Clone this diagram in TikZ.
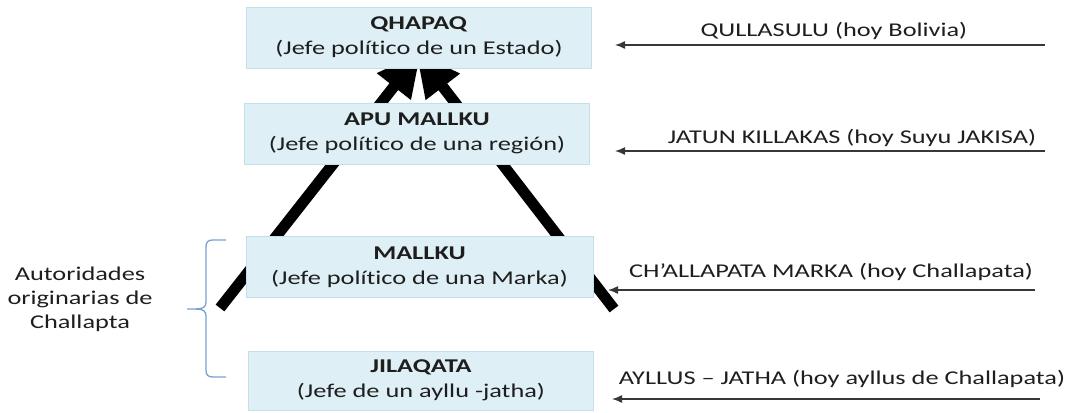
\documentclass[tikz,border=0pt]{standalone}
\usepackage{fontspec}
\setmainfont{Carlito}[FakeStretch=1.35,Ligatures={NoCommon}]
\usetikzlibrary{arrows.meta,backgrounds,calc}
\definecolor{boxfill}{RGB}{222,239,245}
\definecolor{boxline}{RGB}{195,224,234}
\definecolor{txt}{RGB}{30,30,30}
\definecolor{bracec}{RGB}{120,160,210}
\definecolor{thinc}{RGB}{55,55,55}
\begin{document}
\begin{tikzpicture}[x=1pt,y=-1pt,
  every node/.style={text=txt,font=\fontsize{19.5}{25}\selectfont},
  level/.style={draw=boxline,fill=boxfill,line width=0.8pt,minimum width=345pt,minimum height=61pt,align=center,inner sep=0pt},
  lbl/.style={anchor=base,inner sep=0pt},
  thinarrow/.style={draw=thinc,line width=1.4pt,-{Latex[length=10pt,width=8pt]}},
  bigarrow/.style={line width=11pt,-{Triangle[length=44pt,width=40pt]}},
]
\useasboundingbox (0,0) rectangle (1067,412);
\node[level] (q) at (419,37.5) {\textbf{QHAPAQ}\\(Jefe político de un Estado)};
\node[level] (a) at (417,133.5) {\textbf{APU MALLKU}\\(Jefe político de una región)};
\node[level,minimum width=347pt] (m) at (419.5,267) {\textbf{MALLKU}\\(Jefe político de una Marka)};
\node[level,minimum height=59pt] (j) at (421,380.5) {\textbf{JILAQATA}\\(Jefe de un ayllu -jatha)};

\coordinate (lb) at (220,308);
\coordinate (lt) at (421,52);
\coordinate (rb) at (614,309);
\coordinate (rt) at (416,52);
\begin{pgfonlayer}{background}
\draw[bigarrow] (lb) -- (lt);
\draw[bigarrow] (rb) -- (rt);
\end{pgfonlayer}

\node[lbl] (l1) at (834,37) {QULLASULU (hoy Bolivia)};
\node[lbl] (l2) at (852,143) {JATUN KILLAKAS (hoy Suyu JAKISA)};
\node[lbl] (l3) at (831,277) {CH’ALLAPATA MARKA (hoy Challapata)};
\node[lbl] (l4) at (842,384) {AYLLUS – JATHA (hoy ayllus de Challapata)};

\coordinate (s1) at (1045,45); \coordinate (e1) at (615,45);
\coordinate (s2) at (1045,151); \coordinate (e2) at (615,151);
\coordinate (s3) at (1035,290); \coordinate (e3) at (608,290);
\coordinate (s4) at (1040,399); \coordinate (e4) at (612,399);
\draw[thinarrow] (s1) -- (e1);
\draw[thinarrow] (s2) -- (e2);
\draw[thinarrow] (s3) -- (e3);
\draw[thinarrow] (s4) -- (e4);

\node[align=center,inner sep=0pt,font=\fontsize{19.5}{24}\selectfont] (au) at (80,299) {Autoridades\\originarias de\\Challapta};

\draw[bracec,line width=1.3pt] (226,240) -- (213,240) .. controls (208,240) and (206,242) .. (206,247) -- (206,302) .. controls (206,307) and (203,309) .. (196,309) -- (187,309);
\draw[bracec,line width=1.3pt] (196,309) .. controls (203,309) and (206,311) .. (206,316) -- (206,370) .. controls (206,375) and (208,377) .. (213,377) -- (226,377);
\end{tikzpicture}
\end{document}
